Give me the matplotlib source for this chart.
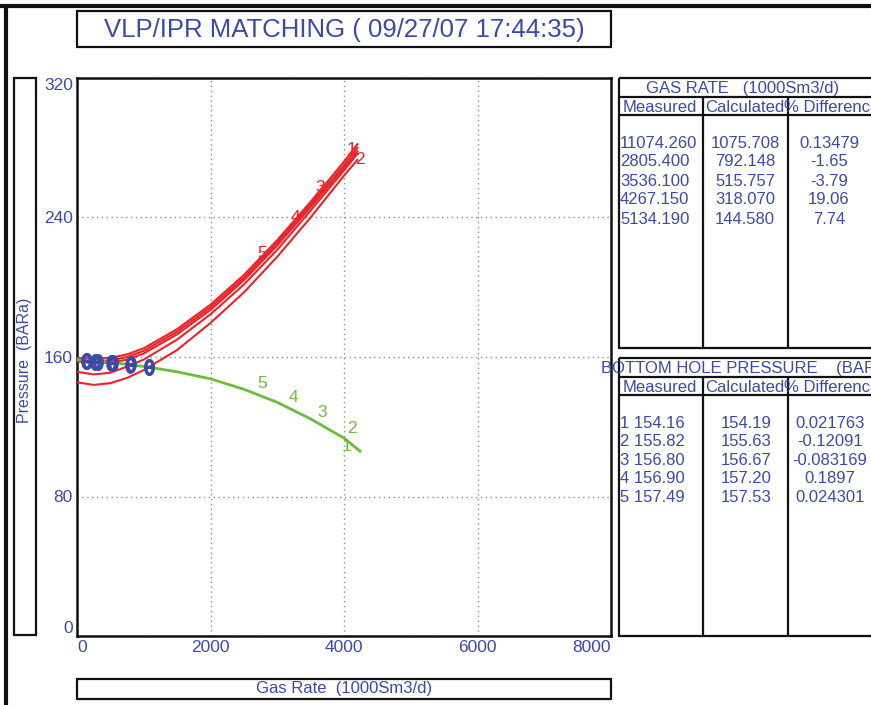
import numpy as np
import matplotlib
matplotlib.use("Agg")
import matplotlib.pyplot as plt
import matplotlib.transforms as mtrans
from matplotlib.patches import Rectangle
from matplotlib.path import Path

# ---------------- data ----------------
# VLP curves (pressure BARa vs gas rate 1000Sm3/d), one per well test
vlp_gas = [0, 250, 500, 750, 1000, 1500, 2000, 2500, 3000, 3500, 4000, 4200]
vlp_1 = [145.5, 144.0, 145.0, 148.0, 152.5, 164.0, 179.5, 197.0, 217.5, 240.0, 264.0, 273.0]
vlp_2 = [151.5, 150.0, 151.0, 154.5, 158.5, 170.0, 184.5, 201.5, 221.5, 244.0, 267.0, 276.5]
vlp_3 = [157.5, 156.5, 156.8, 158.5, 162.0, 173.0, 187.0, 204.0, 224.0, 246.0, 268.5, 278.0]
vlp_4 = [158.5, 157.5, 158.0, 160.0, 163.5, 174.5, 188.5, 205.5, 225.5, 247.5, 270.0, 280.0]
vlp_5 = [159.5, 159.0, 159.5, 161.5, 165.0, 176.0, 190.0, 207.0, 227.0, 249.0, 272.0, 282.0]

# IPR curve
ipr_gas = [0, 500, 1074, 1500, 2000, 2500, 3000, 3500, 4000, 4240]
ipr_p = [158.5, 157.0, 154.2, 151.5, 147.5, 141.5, 134.0, 124.5, 113.5, 106.0]

# well test points
test_no = ["1", "2", "3", "4", "5"]
gas_meas = [1074.260, 805.400, 536.100, 267.150, 134.190]
gas_calc = [1075.708, 792.148, 515.757, 318.070, 144.580]
gas_diff = ["0.13479", "-1.65", "-3.79", "19.06", "7.74"]
bhp_meas = [154.16, 155.82, 156.80, 156.90, 157.49]
bhp_calc = [154.19, 155.63, 156.67, 157.20, 157.53]
bhp_diff = ["0.021763", "-0.12091", "-0.083169", "0.1897", "0.024301"]

# where the curve numbers are written along the curves
vlp_label_gas = [4110, 4240, 3640, 3266, 2770]
ipr_label_gas = [4030, 4120, 3670, 3236, 2770]

xticks = [0, 2000, 4000, 6000, 8000]
yticks = [0, 80, 160, 240, 320]

# ---------------- style ----------------
W, H = 871, 705
BLUE = "#3b4aa6"
RED = "#ec2227"
GREEN = "#6cbd3c"
FONT = ["Liberation Sans", "DejaVu Sans"]


def px_box(x0, y0, x1, y1):
    return [x0 / W, 1 - y1 / H, (x1 - x0) / W, (y1 - y0) / H]


fig = plt.figure(figsize=(W / 100, H / 100), dpi=100)
fig.patch.set_facecolor("white")

# main plot
ax = fig.add_axes(px_box(77, 78, 611, 636))
ax.set_zorder(1)

# pixel-space canvas for frames and tables, drawn on top
bg = fig.add_axes([0, 0, 1, 1])
bg.set_zorder(2)
bg.set_xlim(0, W)
bg.set_ylim(H, 0)
bg.axis("off")


def frame(x0, y0, x1, y1, lw=1.6):
    bg.add_patch(Rectangle((x0, y0), x1 - x0, y1 - y0, fill=False,
                           ec="#111111", lw=lw))


def hline(y, x0, x1, lw=1.6):
    bg.plot([x0, x1], [y, y], color="#111111", lw=lw, solid_capstyle="butt")


def vline(x, y0, y1, lw=1.6):
    bg.plot([x, x], [y0, y1], color="#111111", lw=lw, solid_capstyle="butt")


# page border
hline(6, 0, W, lw=3)
vline(6, 6, H, lw=3)

# title
frame(77, 11, 611, 47)
bg.text(344, 30, "VLP/IPR MATCHING ( 09/27/07 17:44:35)", color=BLUE,
        fontsize=18.5, family=FONT, ha="center", va="center")

# y label box
frame(14, 78, 36, 635)
bg.text(25, 360, "Pressure  (BARa)", color=BLUE, fontsize=11.5, family=FONT,
        rotation=90, ha="center", va="center")

# x label box
frame(77, 679, 611, 699)
bg.text(344, 689, "Gas Rate  (1000Sm3/d)", color=BLUE, fontsize=12,
        family=FONT, ha="center", va="center")


# result tables
def table(top, bottom, title, title_x, col_top, col_bot):
    frame(619, top, W + 5, bottom)
    hline(col_top, 619, W)
    hline(col_bot, 619, W)
    vline(703, col_top, bottom)
    vline(788, col_top, bottom)
    bg.text(title_x, (top + col_top) / 2 + 1, title, color=BLUE, fontsize=12,
            family=FONT, ha="left", va="center")
    hy = (col_top + col_bot) / 2 + 1
    bg.text(623, hy, "Measured", color=BLUE, fontsize=12, family=FONT,
            va="center")
    bg.text(705, hy, "Calculated", color=BLUE, fontsize=12, family=FONT,
            va="center")
    bg.text(784, hy, "% Difference", color=BLUE, fontsize=12, family=FONT,
            va="center")


table(78, 348, "GAS RATE   (1000Sm3/d)", 646, 97, 115)
table(358, 636, "BOTTOM HOLE PRESSURE    (BARa)", 601, 377, 395)

for i in range(5):
    y = 143 + i * 19
    bg.text(620, y, f"{test_no[i]}{gas_meas[i]:.3f}", color=BLUE, fontsize=12,
            family=FONT, va="center")
    bg.text(745, y, f"{gas_calc[i]:.3f}", color=BLUE, fontsize=12,
            family=FONT, va="center", ha="center")
    bg.text(829, y, gas_diff[i], color=BLUE, fontsize=12, family=FONT,
            va="center", ha="center")

for i in range(5):
    y = 423 + i * 18.6
    bg.text(620, y, f"{test_no[i]} {bhp_meas[i]:.2f}", color=BLUE,
            fontsize=12, family=FONT, va="center")
    bg.text(746, y, f"{bhp_calc[i]:.2f}", color=BLUE, fontsize=12,
            family=FONT, va="center", ha="center")
    bg.text(830, y, bhp_diff[i], color=BLUE, fontsize=12, family=FONT,
            va="center", ha="center")

# ---------------- curves ----------------
ax.set_xlim(0, 8000)
ax.set_ylim(0, 320)

for curve in [vlp_1, vlp_2, vlp_3, vlp_4, vlp_5]:
    ax.plot(vlp_gas, curve, color=RED, lw=1.5, zorder=3)
ax.plot(ipr_gas, ipr_p, color=GREEN, lw=2.0, zorder=3)

vlp_off = [1.5, -9.0, 1.5, 1.5, 1.5]
ipr_off = [-4.0, 9.0, 7.5, 7.5, 7.5]
for i in range(5):
    g = vlp_label_gas[i]
    p = np.interp(g, vlp_gas, vlp_5)
    ax.text(g, p + vlp_off[i], test_no[i], color=RED, fontsize=12.5,
            family=FONT, ha="center", va="center", zorder=4)
    g = ipr_label_gas[i]
    p = np.interp(g, ipr_gas, ipr_p)
    ax.text(g, p + ipr_off[i], test_no[i], color=GREEN, fontsize=12.5,
            family=FONT, ha="center", va="center", zorder=4)

# tall ellipse with a bar through it for the test points
ring = Path.unit_circle().transformed(mtrans.Affine2D().scale(0.55, 1.0))
bar = Path([[-0.55, 0.0], [0.55, 0.0]], [Path.MOVETO, Path.LINETO])
pt_marker = Path.make_compound_path(ring, bar)

ax.plot(gas_meas, bhp_meas, ls="none", marker=pt_marker, ms=10,
        mfc="none", mec=BLUE, mew=2.2, zorder=5)
ax.plot(gas_calc, bhp_calc, ls="none", marker=pt_marker, ms=10,
        mfc="none", mec=BLUE, mew=2.2, zorder=5)

ax.set_xticks(xticks)
ax.set_yticks(yticks)
ax.grid(True, color="#8c8c8c", ls=(0, (1, 2.5)), lw=1.0)
ax.tick_params(length=0, colors=BLUE, labelsize=12.5, pad=3)
for lab in ax.get_xticklabels() + ax.get_yticklabels():
    lab.set_family(FONT)
xl = ax.get_xticklabels()
xl[0].set_ha("left")
xl[-1].set_ha("right")
yl = ax.get_yticklabels()
yl[0].set_va("bottom")
yl[-1].set_va("top")
for s in ax.spines.values():
    s.set_linewidth(1.8)
    s.set_color("#111111")

fig.savefig("out.png", dpi=100, facecolor="white")
